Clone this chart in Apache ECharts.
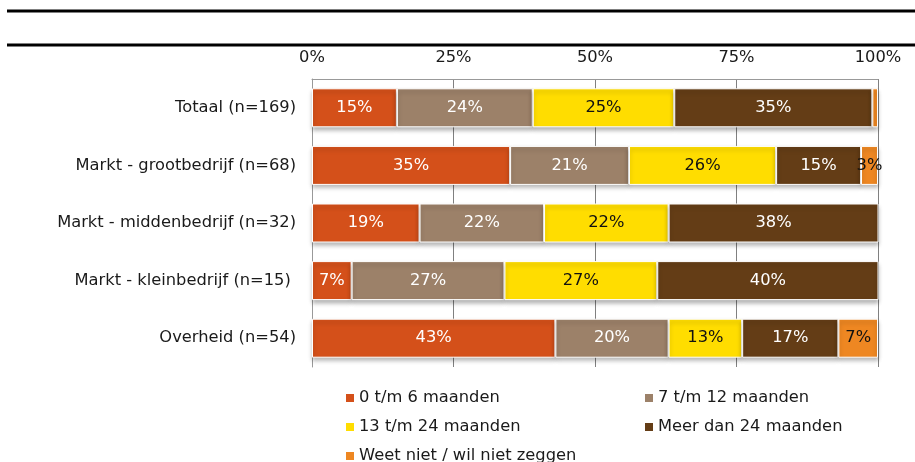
<!DOCTYPE html>
<html>
<head>
<meta charset="utf-8">
<script src="https://cdn.jsdelivr.net/npm/echarts@6/dist/echarts.min.js"></script>
<style>
  html, body { margin: 0; padding: 0; background: #ffffff; }
  #chart { width: 915px; height: 462px; }
</style>
</head>
<body>
<div id="chart"></div>
<script>
// Looptijd per groep (percentages per rij)
const categories = [
  'Totaal (n=169)',
  'Markt - grootbedrijf (n=68)',
  'Markt - middenbedrijf (n=32)',
  'Markt - kleinbedrijf (n=15) ',
  'Overheid (n=54)'
];
const seriesNames = [
  '0 t/m 6 maanden',
  '7 t/m 12 maanden',
  '13 t/m 24 maanden',
  'Meer dan 24 maanden',
  'Weet niet / wil niet zeggen'
];
const months0to6 = [15, 35, 19, 7, 43];
const months7to12 = [24, 21, 22, 27, 20];
const months13to24 = [25, 26, 22, 27, 13];
const moreThan24 = [35, 15, 38, 40, 17];
const unknown = [1, 3, 0, 0, 7];
const axisTicks = [0, 25, 50, 75, 100];

const colors = ['#D4501A', '#9C8169', '#FFDD00', '#643D16', '#EE8722'];
const labelColors = ['#ffffff', '#ffffff', '#111111', '#ffffff', '#111111'];
const values = [months0to6, months7to12, months13to24, moreThan24, unknown];
const FONT = '"DejaVu Sans", Verdana, sans-serif';
const FS = 16.3;

const series = values.map((data, i) => ({
  name: seriesNames[i],
  type: 'bar',
  stack: 'total',
  barWidth: 39,
  data: data,
  itemStyle: {
    color: colors[i],
    borderColor: '#ffffff',
    borderWidth: 1,
    shadowColor: 'rgba(0,0,0,0.28)',
    shadowBlur: 4,
    shadowOffsetY: 3
  },
  label: {
    show: true,
    position: 'inside',
    color: labelColors[i],
    fontFamily: FONT,
    fontSize: FS,
    formatter: p => (p.value >= 2 ? p.value + '%' : '')
  },
  emphasis: { disabled: true }
}));

// one legend block per entry, laid out in two columns
const legendSlots = [
  { left: 346, top: 390 },
  { left: 645, top: 390 },
  { left: 346, top: 419 },
  { left: 645, top: 419 },
  { left: 346, top: 448 }
];
const legends = seriesNames.map((name, i) => ({
  data: [name],
  left: legendSlots[i].left,
  top: legendSlots[i].top,
  padding: 0,
  icon: 'rect',
  itemWidth: 8,
  itemHeight: 8,
  itemStyle: { borderWidth: 0, shadowBlur: 0, shadowOffsetY: 0, shadowColor: 'transparent' },
  selectedMode: false,
  textStyle: { fontFamily: FONT, fontSize: FS, color: '#1a1a1a', padding: [1, 0, 0, 0] }
}));

const chart = echarts.init(document.getElementById('chart'), null, { renderer: 'canvas' });
chart.setOption({
  animation: false,
  backgroundColor: '#ffffff',
  grid: { left: 312, right: 37, top: 79, bottom: 95, containLabel: false },
  xAxis: {
    type: 'value',
    position: 'top',
    min: axisTicks[0],
    max: axisTicks[axisTicks.length - 1],
    interval: axisTicks[1] - axisTicks[0],
    axisLine: { show: true, lineStyle: { color: '#999999', width: 1 } },
    axisTick: { show: false },
    axisLabel: { margin: 13, fontFamily: FONT, fontSize: FS, color: '#1a1a1a', formatter: '{value}%' },
    splitLine: { show: true, lineStyle: { color: '#808080', width: 1 } }
  },
  yAxis: {
    type: 'category',
    data: categories,
    inverse: true,
    axisLine: { show: true, lineStyle: { color: '#999999', width: 1 } },
    axisTick: { show: false },
    axisLabel: { margin: 16, fontFamily: FONT, fontSize: FS, color: '#1a1a1a' },
    splitLine: { show: false }
  },
  legend: legends,
  series: series,
  graphic: [
    { type: 'line', shape: { x1: 7, y1: 11, x2: 915, y2: 11 }, style: { stroke: '#000000', lineWidth: 3 } },
    { type: 'line', shape: { x1: 7, y1: 45, x2: 915, y2: 45 }, style: { stroke: '#000000', lineWidth: 3 } }
  ]
});
</script>
</body>
</html>
